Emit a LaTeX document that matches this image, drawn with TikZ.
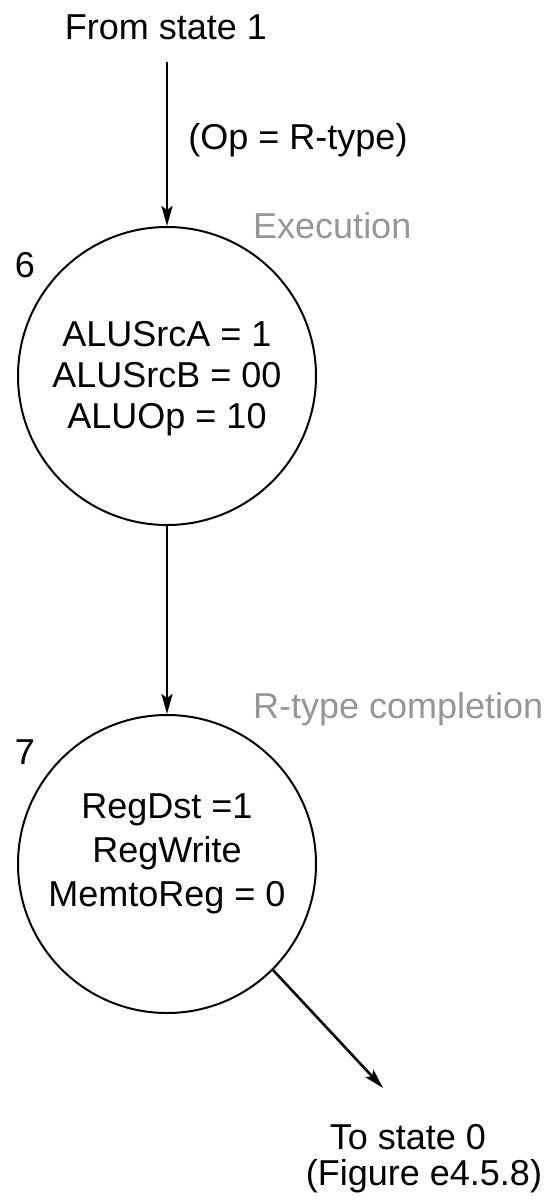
\documentclass[tikz,border=0pt]{standalone}
\usepackage{fontspec}
\setmainfont{Liberation Sans}
\usetikzlibrary{arrows.meta}
\definecolor{labelgray}{RGB}{150,150,150}
\tikzset{
  state/.style={circle,draw,line width=2pt,minimum size=298pt,inner sep=0pt},
  txt/.style={font=\fontsize{36}{41}\selectfont,inner sep=0pt},
  graytxt/.style={txt,text=labelgray},
  conn/.style={line width=2.6pt,-{Stealth[length=20pt,width=11pt,inset=4pt]}}
}
\begin{document}
\begin{tikzpicture}[x=1pt,y=-1pt]
\useasboundingbox (0,0) rectangle (552,1203);
\node[txt] (from) at (166,27) {From state 1};
\coordinate (start) at (167,62);
\node[state] (s6) at (167,376) {};
\node[state] (s7) at (167,864) {};
\node[txt,align=center] (t6) at (167,379) {ALUSrcA = 1\\ALUSrcB = 00\\ALUOp = 10};
\node[txt,align=center,font=\fontsize{36}{44}\selectfont] (t7) at (167,854) {RegDst =1\\RegWrite\\MemtoReg = 0};
\node[txt] (n6) at (25,265) {6};
\node[txt] (n7) at (25,752) {7};
\node[txt] (cond) at (298,140) {(Op = R-type)};
\node[graytxt,anchor=west] (exec) at (253,226) {Execution};
\node[graytxt,anchor=west] (rcomp) at (253,709) {R-type completion};
\node[txt,anchor=base] (to0) at (408,1149) {To state 0};
\node[txt,anchor=base] (fig) at (424,1185) {(Figure e4.5.8)};
\coordinate (end3) at (383,1088);
\draw[conn] (start) -- (s6.north);
\draw[conn] (s6.south) -- (s7.north);
\draw[conn] (s7.-45) -- (end3);
\end{tikzpicture}
\end{document}
